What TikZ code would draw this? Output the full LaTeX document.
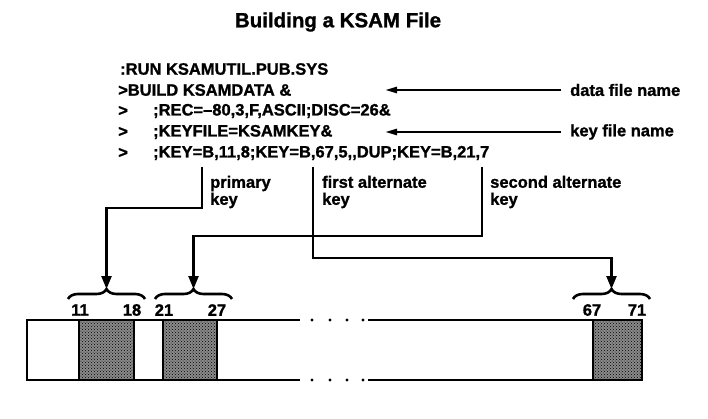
\documentclass[tikz,border=0pt]{standalone}
\usepackage{fontspec}
\setmainfont{Liberation Sans}[BoldFeatures={FakeBold=1.2}]
\usetikzlibrary{arrows.meta,decorations.pathreplacing,patterns}
\tikzset{
  cmd/.style={anchor=west,inner sep=0pt,font=\fontsize{16.5}{18}\selectfont\bfseries},
  keylabel/.style={anchor=west,inner sep=0pt,align=left,font=\fontsize{16.5}{17}\selectfont\bfseries},
  posnum/.style={inner sep=0pt,font=\fontsize{16.5}{18}\selectfont\bfseries},
  nameptr/.style={line width=2.4pt,-{Triangle[length=12pt,width=6pt]},shorten <=9pt},
  keyline/.style={line width=2.4pt,-{Triangle[length=13pt,width=10pt]}},
  keybrace/.style={line width=2.6pt,decorate,decoration={brace,amplitude=10pt}},
  recline/.style={line width=2.8pt},
  keycell/.style={fill=fieldgrey,postaction={pattern=crosshatch dots,pattern color=black},draw=black,line width=2.8pt}
}
\begin{document}
\begin{tikzpicture}[x=1pt,y=1pt]
\definecolor{fieldgrey}{HTML}{8A8A8A}
\useasboundingbox (0,0) rectangle (708,418);
\node[inner sep=0pt,font=\fontsize{20.5}{24}\selectfont\bfseries] (title) at (338,396) {Building a KSAM File};
% command lines
\node[cmd] (run) at (120,349) {:RUN KSAMUTIL.PUB.SYS};
\node[cmd] (build) at (118,328) {>BUILD KSAMDATA \&};
\node[cmd] (prompta) at (118,307) {>};
\node[cmd] (rec) at (153,307) {;REC=–80,3,F,ASCII;DISC=26\&};
\node[cmd] (promptb) at (118,286) {>};
\node[cmd] (keyfile) at (153,286) {;KEYFILE=KSAMKEY\&};
\node[cmd] (promptc) at (118,265) {>};
\node[cmd] (keys) at (153,265) {;KEY=B,11,8;KEY=B,67,5,{},DUP;KEY=B,21,7};
% file name pointers
\node[cmd] (dataname) at (570,328) {data file name};
\node[cmd] (keyname) at (570,286) {key file name};
\coordinate (datatip) at (385,328);
\coordinate (keytip) at (385,286);
\draw[nameptr] (dataname) -- (datatip);
\draw[nameptr] (keyname) -- (keytip);
% key labels
\node[keylabel] (primary) at (210,226) {primary\\key};
\node[keylabel] (firstalt) at (322,226) {first alternate\\key};
\node[keylabel] (secondalt) at (490,226) {second alternate\\key};
\coordinate (primtop) at (202,251);
\coordinate (firsttop) at (313,251);
\coordinate (secondtop) at (482,251);
% braces over the key fields
\draw[keybrace] (68,119) -- (145,119);
\draw[keybrace] (155,119) -- (232,119);
\draw[keybrace] (573,119) -- (650,119);
\coordinate (brace11) at (106.5,129);
\coordinate (brace21) at (193.5,129);
\coordinate (brace67) at (611.5,129);
\draw[keyline] (primtop) |- (106.5,210) -- (brace11);
\draw[keyline] (secondtop) |- (193.5,182) -- (brace21);
\draw[keyline] (firsttop) |- (611.5,160) -- (brace67);
% field positions
\node[posnum] (p11) at (80,108) {11};
\node[posnum] (p18) at (132,108) {18};
\node[posnum] (p21) at (164,108) {21};
\node[posnum] (p27) at (217,108) {27};
\node[posnum] (p67) at (592,108) {67};
\node[posnum] (p71) at (637,108) {71};
% record
\draw[recline] (300,98) -- (27,98) -- (27,38) -- (300,38);
\draw[recline] (368,98) -- (642,98) -- (642,38) -- (368,38);
\draw[keycell] (79,38) rectangle (134,98);
\draw[keycell] (163,38) rectangle (217,98);
\draw[keycell] (593,38) rectangle (642,98);
\fill (312,98) circle (1.6);\fill (330,98) circle (1.6);\fill (347,98) circle (1.6);\fill (363,98) circle (1.6);
\fill (312,38) circle (1.6);\fill (330,38) circle (1.6);\fill (347,38) circle (1.6);\fill (363,38) circle (1.6);
\end{tikzpicture}
\end{document}
